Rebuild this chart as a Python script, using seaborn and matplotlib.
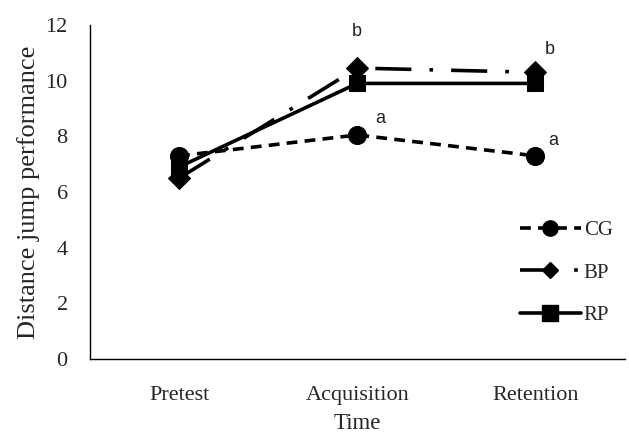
import pandas as pd
import matplotlib.pyplot as plt
import seaborn as sns
from matplotlib.lines import Line2D

# values
times = ['Pretest', 'Acquisition', 'Retention']
groups = ['CG', 'BP', 'RP']
cg_values = [7.3, 8.05, 7.3]
bp_values = [6.5, 10.45, 10.3]
rp_values = [6.9, 9.9, 9.9]
letters_acq = {'BP': 'b', 'CG': 'a'}
letters_ret = {'BP': 'b', 'CG': 'a'}

df = pd.DataFrame({
    'Time': times * 3,
    'Group': ['CG'] * 3 + ['BP'] * 3 + ['RP'] * 3,
    'Score': cg_values + bp_values + rp_values,
})

sns.set_style('white')
plt.rcParams['font.family'] = ['Liberation Serif', 'DejaVu Serif']

fig = plt.figure(figsize=(6.29, 4.37), dpi=100)
ax = fig.add_axes([0.143, 0.178, 0.85, 0.765])

markers = {'CG': 'o', 'BP': 'D', 'RP': 's'}
dashes = {'CG': (3, 2), 'BP': (10, 5, 1, 5), 'RP': None}
sizes = {'CG': 13, 'BP': 11, 'RP': 12}
legend_sizes = {'CG': 11, 'BP': 8, 'RP': 11}
lw = 2.6

for g in groups:
    sub = df[df['Group'] == g]
    line_kw = dict(linestyle='-') if dashes[g] is None else dict(dashes=dashes[g])
    sns.lineplot(
        data=sub, x='Time', y='Score', color='black', marker=markers[g],
        markersize=sizes[g], markeredgecolor='black', linewidth=lw,
        sort=False, ax=ax, **line_kw
    )

ax.set_xlim(-0.5, 2.5)
ax.set_ylim(0, 12)
ax.set_yticks(range(0, 13, 2))
ax.tick_params(axis='both', labelsize=16, length=0)
ax.tick_params(axis='y', pad=16)
ax.tick_params(axis='x', pad=19)
ax.set_xlabel('Time', fontsize=16.5, labelpad=6)
ax.set_ylabel('Distance jump performance', fontsize=19, labelpad=4)
for side in ['top', 'right']:
    ax.spines[side].set_visible(False)
for side in ['left', 'bottom']:
    ax.spines[side].set_color('black')
    ax.spines[side].set_linewidth(1)

# significance letters
ann_font = dict(fontsize=13, family='Liberation Sans', color='#222222')
ax.text(1.0, bp_values[1] + 1.0, letters_acq['BP'], ha='center', va='bottom', **ann_font)
ax.text(1.1, cg_values[1] + 0.3, letters_acq['CG'], ha='left', va='bottom', **ann_font)
ax.text(2.05, bp_values[2] + 0.5, letters_ret['BP'], ha='left', va='bottom', **ann_font)
ax.text(2.07, cg_values[2] + 0.25, letters_ret['CG'], ha='left', va='bottom', **ann_font)

handles = []
for g in groups:
    h = Line2D([], [], color='black', lw=lw, marker=markers[g],
               markersize=legend_sizes[g], linestyle='-')
    if dashes[g] is not None:
        h.set_dashes(dashes[g])
    handles.append(h)
ax.legend(handles, groups, loc='upper left', bbox_to_anchor=(0.789, 0.44),
          frameon=False, fontsize=15, handlelength=2.9, handletextpad=0.15,
          labelspacing=1.1, borderaxespad=0)

fig.savefig('out.png', dpi=100)
